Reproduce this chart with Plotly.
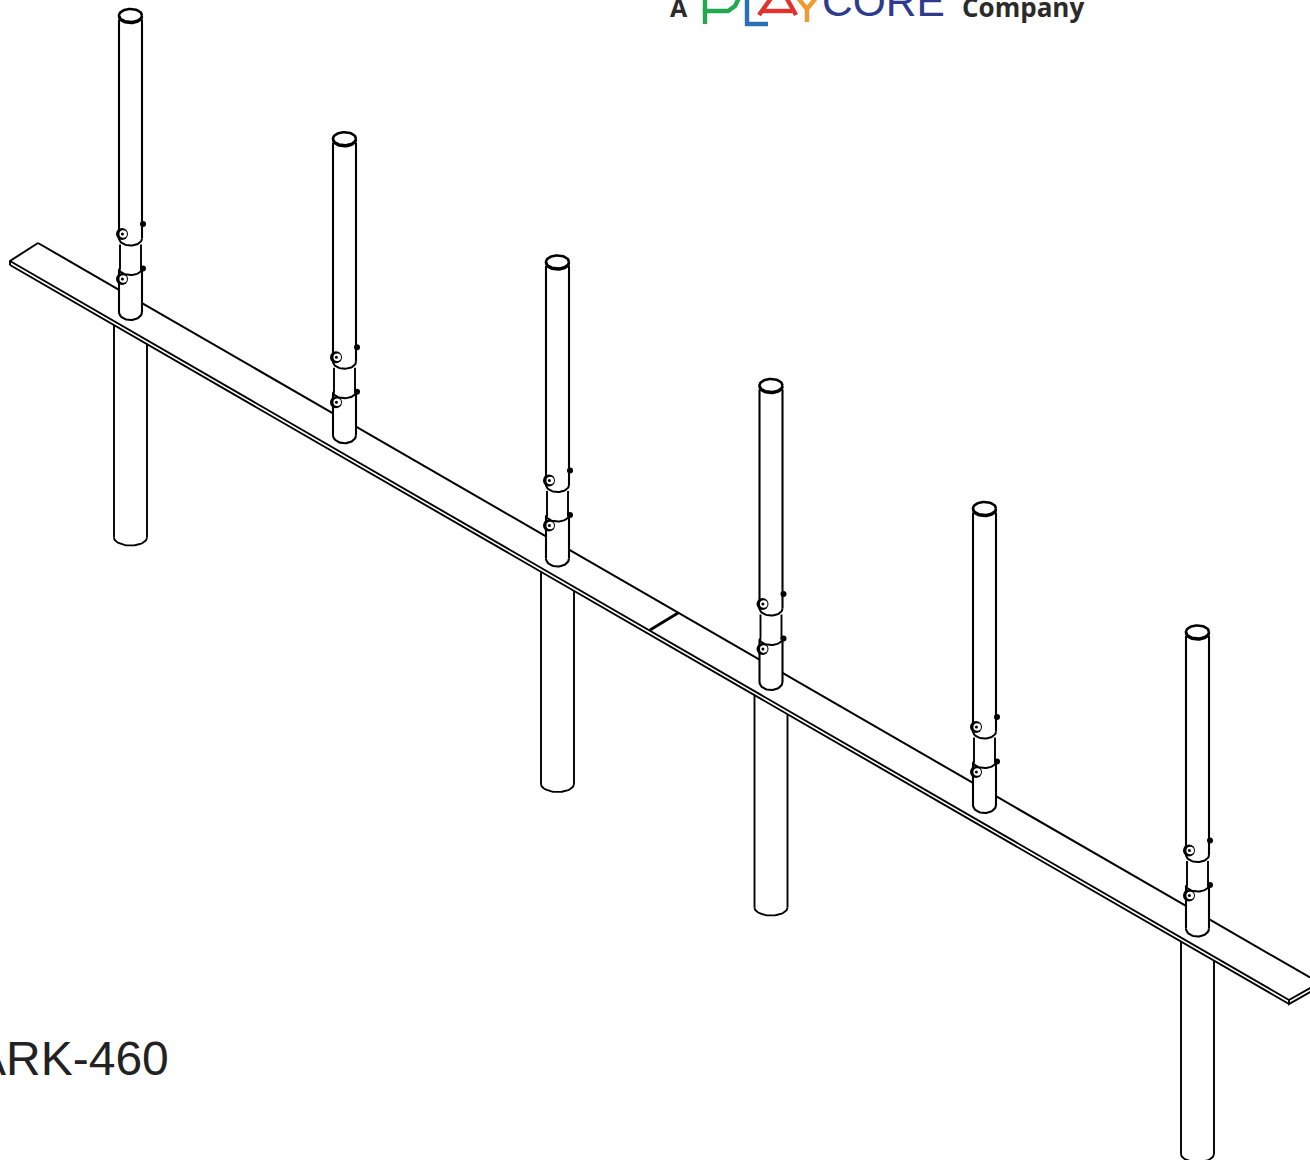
import numpy as np
import plotly.graph_objects as go

post_x = [130.5, 344.5, 557.5, 771.0, 984.5, 1197.5]
post_top = [15.5, 138.7, 262.0, 385.5, 508.5, 632.0]
post_has_pipe = [True, False, True, True, False, True]
plank_back_start = [38, 243]
plank_back_end = [1310, 977.5]
plank_front_top = [[10, 261], [1289, 1000]]
plank_front_bottom = [[10, 265], [1289, 1004]]
plank_left_end = [[38, 243], [10, 261], [10, 265]]
plank_right_end = [[1312, 987], [1289, 1000], [1289, 1004], [1312, 991]]
splice = [[650, 630], [678, 613]]

tube_half = 11.5
waist_half = 10.5
pipe_half = 16.5
tube_end = 304.5
upper_sleeve_end = 227.0
lower_sleeve_top = 254.0
pipe_end = 530.0
bolt_offsets = [218.5, 263.5]
nub_offsets = [208.5, 253.0]

logo_p = [[705, 24], [705, 11], [728, 11], [735, 6], [739, -2]]
logo_p_stem = [[705, 11], [705, -2]]
logo_l = [[747, -2], [747, 24], [768, 24]]
logo_a_left = [[759, 15], [772, -3]]
logo_a_right = [[796, 15], [786, -3]]
logo_a_bar = [[763, 11], [792, 11]]
logo_y_stem = [[807, 22], [807, 9]]
logo_y_left = [[807, 9], [798, -2]]
logo_y_right = [[807, 9], [816, -2]]


def back_y(x):
    (x0, y0), (x1, y1) = plank_back_start, plank_back_end
    return y0 + (y1 - y0) * (x - x0) / (x1 - x0)


def front_y(x):
    (x0, y0), (x1, y1) = plank_front_bottom
    return y0 + (y1 - y0) * (x - x0) / (x1 - x0)


def arc(cx, cy, rx, ry, a0, a1, n=30):
    t = np.radians(np.linspace(a0, a1, n))
    return list(cx + rx * np.cos(t)), list(cy + ry * np.sin(t))


fig = go.Figure()


def line(xs, ys, width=2.0, color="#000000"):
    fig.add_trace(go.Scatter(x=list(xs), y=list(ys), mode="lines", hoverinfo="skip",
                             showlegend=False, line=dict(color=color, width=width)))


def path(pts, width=2.0, color="#000000"):
    line([p[0] for p in pts], [p[1] for p in pts], width, color)


# plank
path(plank_left_end, 2.0)
path(plank_front_top, 1.9)
path(plank_front_bottom, 1.9)
path(plank_right_end, 2.0)
path(splice, 2.8)

# back edge of the plank, broken behind each tube
left = plank_back_start[0]
for cx in post_x:
    line([left, cx - tube_half], [back_y(left), back_y(cx - tube_half)], 2.0)
    left = cx + tube_half
line([left, plank_back_end[0]], [back_y(left), plank_back_end[1]], 2.0)

bolt_x, bolt_y, nub_x, nub_y = [], [], [], []
for cx, top, has_pipe in zip(post_x, post_top, post_has_pipe):
    # top cap
    ex, ey = arc(cx, top, tube_half, 6.5, 0, 360, 60)
    line(ex, ey, 2.6)
    ex, ey = arc(cx, top + 1, tube_half, 6.5, 0, 180)
    line(ex, ey, 2.6)
    # upper tube
    line([cx - tube_half, cx - tube_half], [top + 4, top + upper_sleeve_end - 4], 2.1)
    line([cx + tube_half, cx + tube_half], [top + 4, top + upper_sleeve_end - 4], 2.1)
    ax, ay = arc(cx, top + upper_sleeve_end - 4, tube_half, 7, 0, 180)
    line(ax, ay, 2.0)
    # waist between the clamps
    line([cx - waist_half, cx - waist_half], [top + upper_sleeve_end + 2, top + lower_sleeve_top], 1.9)
    line([cx + waist_half, cx + waist_half], [top + upper_sleeve_end + 2, top + lower_sleeve_top], 1.9)
    # lower sleeve
    ax, ay = arc(cx, top + lower_sleeve_top - 1, tube_half, 6.5, 0, 180)
    line(ax, ay, 2.0)
    line([cx - tube_half, cx - tube_half], [top + lower_sleeve_top, top + tube_end - 8], 2.1)
    line([cx + tube_half, cx + tube_half], [top + lower_sleeve_top, top + tube_end - 8], 2.1)
    ax, ay = arc(cx, top + tube_end - 8, tube_half, 8, 0, 180)
    line(ax, ay, 2.1)
    # in-ground pipe
    if has_pipe:
        line([cx - pipe_half, cx - pipe_half], [front_y(cx - pipe_half), top + pipe_end - 8], 1.9)
        line([cx + pipe_half, cx + pipe_half], [front_y(cx + pipe_half), top + pipe_end - 8], 1.9)
        ax, ay = arc(cx, top + pipe_end - 8, pipe_half, 8, 0, 180)
        line(ax, ay, 1.9)
    for off in bolt_offsets:
        bolt_x.append(cx - 8.5)
        bolt_y.append(top + off)
    for off in nub_offsets:
        nub_x.append(cx + 12.5)
        nub_y.append(top + off)

fig.add_trace(go.Scatter(x=nub_x, y=nub_y, mode="markers", hoverinfo="skip", showlegend=False,
                         marker=dict(size=6, color="#000000")))
fig.add_trace(go.Scatter(x=bolt_x, y=bolt_y, mode="markers", hoverinfo="skip", showlegend=False,
                         marker=dict(size=12, color="#000000")))
fig.add_trace(go.Scatter(x=[b + 1.2 for b in bolt_x], y=bolt_y, mode="markers", hoverinfo="skip",
                         showlegend=False, marker=dict(size=7.5, color="#ffffff")))
fig.add_trace(go.Scatter(x=[b + 0.4 for b in bolt_x], y=bolt_y, mode="markers", hoverinfo="skip",
                         showlegend=False, marker=dict(size=3, color="#000000")))

# logo marks
for pts, col in [(logo_p, "#22a84f"), (logo_p_stem, "#22a84f"), (logo_l, "#2b6fb7"),
                 (logo_a_left, "#e2322d"), (logo_a_right, "#e2322d"), (logo_a_bar, "#e2322d"),
                 (logo_y_stem, "#f29a2e"), (logo_y_left, "#f29a2e"), (logo_y_right, "#f29a2e")]:
    path(pts, 4.4, col)


def label(text, x, y, size, color, family, anchor="left"):
    fig.add_annotation(text=text, x=x, y=y, xref="x", yref="y", showarrow=False, xanchor=anchor,
                       yanchor="bottom", borderpad=0, borderwidth=0,
                       font=dict(size=size, color=color, family=family))


label("<b>A</b>", 670, 24, 25, "#2b2b2b", "Open Sans")
label("CORE", 822, 25, 42.5, "#2e3a8c", "Liberation Sans")
label("<b>Company</b>", 962, 25, 26, "#2b2b2b", "Open Sans")
label("ARK-460", 169, 1085, 48, "#222222", "Liberation Sans", "right")

fig.update_layout(
    width=1310, height=1160, autosize=False,
    margin=dict(l=0, r=0, t=0, b=0),
    paper_bgcolor="#ffffff", plot_bgcolor="#ffffff",
    xaxis=dict(range=[0, 1310], visible=False, fixedrange=True),
    yaxis=dict(range=[1160, 0], visible=False, fixedrange=True),
)
fig.write_html("out.html", config={"displayModeBar": False},
               default_width="1310px", default_height="1160px",
               post_script="document.body.style.margin='0';document.body.style.overflow='hidden';")
